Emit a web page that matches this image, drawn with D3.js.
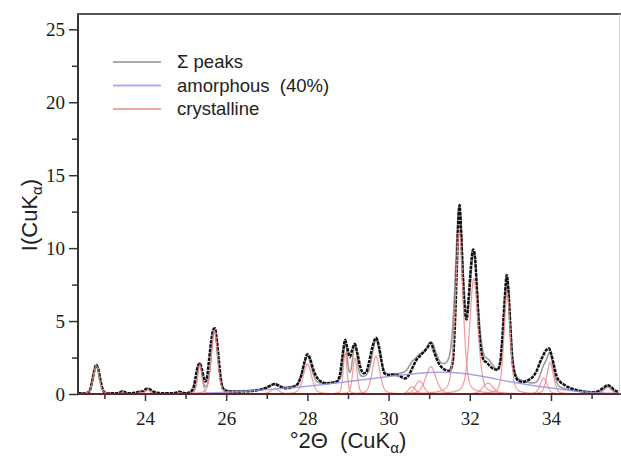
<!DOCTYPE html>
<html lang="en">
<head>
    <meta charset="UTF-8">
    <title>XRD peak fit</title>
    <script src="https://d3js.org/d3.v7.min.js"></script>
    <style>
        html,
        body {
            margin: 0;
            background: #fff;
            overflow: hidden;
        }
        .tick text {
            font-family: "Liberation Serif", "Times New Roman", "DejaVu Serif", serif;
            font-size: 19px;
            fill: #1a1a1a;
        }
        text { white-space: pre; }
    </style>
</head>
<body>
    <svg id="svg"></svg>
    <script>
        const observed = [
            [22.35, 0.05], [22.5, 0.05], [22.6, 0.1], [22.65, 0.3], [22.7, 0.9], [22.75, 1.6], [22.8, 2.0],
            [22.85, 1.7], [22.9, 1.0], [22.95, 0.4], [23.0, 0.12], [23.1, 0.05], [23.3, 0.05], [23.4, 0.12],
            [23.45, 0.2], [23.5, 0.12], [23.6, 0.05], [23.75, 0.08], [23.85, 0.15], [23.95, 0.2], [24.05, 0.36],
            [24.1, 0.34], [24.2, 0.18], [24.3, 0.08], [24.5, 0.05], [24.7, 0.06], [24.8, 0.12], [24.85, 0.15],
            [24.9, 0.1], [25.0, 0.05], [25.1, 0.1], [25.2, 0.5], [25.25, 1.2], [25.3, 1.9], [25.35, 2.1],
            [25.4, 1.7], [25.45, 1.1], [25.49, 0.85], [25.53, 1.2], [25.58, 2.4], [25.63, 3.6], [25.68, 4.4],
            [25.72, 4.5], [25.77, 3.7], [25.82, 2.3], [25.87, 1.0], [25.92, 0.4], [26.0, 0.2], [26.2, 0.15],
            [26.4, 0.18], [26.6, 0.2], [26.84, 0.3], [27.0, 0.45], [27.1, 0.6], [27.2, 0.68], [27.3, 0.55],
            [27.45, 0.39], [27.6, 0.45], [27.74, 0.62], [27.85, 1.3], [27.93, 2.2], [28.0, 2.72], [28.07, 2.4],
            [28.15, 1.64], [28.23, 1.15], [28.31, 0.9], [28.47, 0.73], [28.6, 0.78], [28.72, 0.84], [28.8, 1.3],
            [28.86, 2.5], [28.93, 3.7], [28.98, 3.2], [29.05, 2.55], [29.1, 3.0], [29.17, 3.42], [29.23, 2.8],
            [29.3, 1.9], [29.38, 1.42], [29.45, 1.5], [29.52, 2.2], [29.6, 3.2], [29.69, 3.85], [29.76, 3.3],
            [29.83, 2.2], [29.9, 1.4], [30.0, 1.3], [30.1, 1.33], [30.2, 1.3], [30.3, 1.2], [30.4, 1.07],
            [30.5, 1.3], [30.6, 1.87], [30.7, 2.4], [30.77, 2.6], [30.85, 2.85], [30.95, 3.15], [31.04, 3.5],
            [31.12, 2.9], [31.2, 2.3], [31.3, 1.85], [31.4, 1.65], [31.5, 1.6], [31.58, 2.2], [31.63, 4.5],
            [31.68, 8.5], [31.73, 12.5], [31.75, 12.95], [31.78, 11.5], [31.83, 8.0], [31.88, 5.6], [31.92, 5.1],
            [31.97, 6.5], [32.03, 8.8], [32.08, 9.9], [32.12, 9.6], [32.17, 7.5], [32.22, 4.8], [32.28, 3.0],
            [32.35, 2.3], [32.42, 2.15], [32.5, 1.9], [32.6, 1.7], [32.68, 1.65], [32.75, 2.2], [32.8, 3.8],
            [32.86, 6.5], [32.91, 8.15], [32.95, 7.2], [33.0, 4.6], [33.05, 2.3], [33.12, 1.3], [33.2, 0.9],
            [33.3, 0.82], [33.4, 0.9], [33.5, 1.05], [33.56, 1.2], [33.65, 1.6], [33.72, 2.1], [33.8, 2.6],
            [33.88, 3.0], [33.95, 3.13], [34.0, 2.8], [34.07, 2.0], [34.14, 1.2], [34.22, 0.85], [34.3, 0.68],
            [34.4, 0.5], [34.5, 0.39], [34.7, 0.22], [34.9, 0.13], [35.0, 0.12], [35.1, 0.14], [35.2, 0.25],
            [35.3, 0.45], [35.4, 0.6], [35.45, 0.55], [35.55, 0.3], [35.65, 0.15]
        ];

        // amorphous hump [2theta, intensity]
        const amorphous = [
            [24.8, 0], [25.5, 0.05], [26.0, 0.12], [26.5, 0.2], [27.0, 0.3], [27.5, 0.4], [28.0, 0.52],
            [28.5, 0.68], [29.0, 0.85], [29.5, 1.02], [30.0, 1.2], [30.5, 1.36], [31.0, 1.48], [31.5, 1.52],
            [32.0, 1.38], [32.5, 1.12], [33.0, 0.82], [33.5, 0.6], [34.0, 0.4], [34.5, 0.22], [35.0, 0.1],
            [35.65, 0.04]
        ];

        // crystalline peaks: position, height, FWHM
        const peakPos    = [22.8, 23.45, 23.9, 24.07, 24.85, 25.35, 25.71, 27.2, 28.0, 28.93, 29.17, 29.69,
                            30.58, 30.76, 31.04, 31.74, 32.1, 32.45, 32.92, 33.82, 33.98, 35.4];
        const peakHeight = [1.95, 0.15, 0.12, 0.3, 0.1, 2.0, 4.35, 0.34, 2.05, 2.8, 2.45, 2.6,
                            0.5, 0.9, 1.87, 11.1, 7.9, 0.75, 6.9, 1.07, 2.15, 0.45];
        const peakFwhm   = [0.17, 0.08, 0.15, 0.14, 0.1, 0.13, 0.18, 0.25, 0.24, 0.11, 0.13, 0.22,
                            0.2, 0.24, 0.3, 0.22, 0.24, 0.3, 0.18, 0.2, 0.19, 0.22];

        const yTicks = [0, 5, 10, 15, 20, 25];
        const xTicks = [24, 26, 28, 30, 32, 34];
        const legendLabels = ['\u03A3 peaks', 'amorphous  (40%)', 'crystalline'];
        const legendColors = ['#a8a8a8', '#a9aee6', '#f2a8a8'];

        const width = 621, height = 457;
        const svg = d3.select('#svg').attr('width', width).attr('height', height);

        const x = d3.scaleLinear().domain([22.35, 35.7]).range([78, 620]);
        const y = d3.scaleLinear().domain([0, 26.05]).range([394, 14]);

        // pseudo-Voigt shape for each fitted peak
        const eta = 0.35;
        const peak = (i, t) => {
            const d = t - peakPos[i], h = peakFwhm[i] / 2;
            const g = Math.exp(-Math.LN2 * (d / h) * (d / h));
            const l = 1 / (1 + (d / h) * (d / h));
            return peakHeight[i] * ((1 - eta) * g + eta * l);
        };
        const amorphAt = d3.scaleLinear().domain(amorphous.map(d => d[0])).range(amorphous.map(d => d[1])).clamp(true);
        const grid = d3.range(22.35, 35.7, 0.005);

        const line = d3.line().x(d => x(d[0])).y(d => y(d[1]));
        const plot = svg.append('g');

        // sum of all fitted contributions
        plot.append('path')
            .datum(grid.map(t => [t, amorphAt(t) + d3.sum(peakPos, (p, i) => peak(i, t))]))
            .attr('fill', 'none').attr('stroke', '#9c9c9c').attr('stroke-width', 1.6)
            .attr('d', line);

        // measured points
        plot.append('path')
            .datum(observed)
            .attr('fill', 'none').attr('stroke', '#111').attr('stroke-width', 2.5)
            .attr('stroke-dasharray', '3.5,0.9')
            .attr('d', line.curve(d3.curveMonotoneX));
        line.curve(d3.curveLinear);

        // crystalline components
        plot.selectAll('.comp').data(peakPos).join('path')
            .attr('class', 'comp')
            .attr('fill', 'none').attr('stroke', '#ee8a8a').attr('stroke-opacity', 0.85).attr('stroke-width', 1.2)
            .attr('d', (p, i) => line(grid.filter(t => Math.abs(t - p) < 2.5).map(t => [t, peak(i, t)])));

        // amorphous part
        plot.append('path')
            .datum(amorphous)
            .attr('fill', 'none').attr('stroke', '#8f96e6').attr('stroke-opacity', 0.85).attr('stroke-width', 1.5)
            .attr('d', line.curve(d3.curveBasis));

        // axes
        svg.append('g').attr('transform', 'translate(78,0)')
            .call(d3.axisLeft(y).tickValues(yTicks).tickSize(9).tickPadding(4));
        svg.append('g').attr('transform', 'translate(78,0)')
            .call(d3.axisLeft(y).tickValues(d3.range(2.5, 26, 5)).tickSize(6).tickFormat(''));
        const xAxis = svg.append('g').attr('transform', 'translate(0,394)')
            .call(d3.axisBottom(x).tickValues(xTicks).tickSize(7));
        svg.append('g').attr('transform', 'translate(0,394)')
            .call(d3.axisBottom(x).tickValues(d3.range(23, 36, 2)).tickSize(5).tickFormat(''));
        svg.selectAll('.domain').remove();
        svg.selectAll('.tick line').attr('stroke', '#333').attr('stroke-width', 1.5);
        xAxis.selectAll('text').attr('dy', null).attr('y', 31);

        // frame
        svg.append('line').attr('x1', 78).attr('x2', 78).attr('y1', 13).attr('y2', 395)
            .attr('stroke', '#333').attr('stroke-width', 2);
        svg.append('line').attr('x1', 77).attr('x2', 621).attr('y1', 14).attr('y2', 14)
            .attr('stroke', '#555').attr('stroke-width', 2);
        svg.append('line').attr('x1', 77).attr('x2', 621).attr('y1', 394).attr('y2', 394)
            .attr('stroke', '#5a2a2a').attr('stroke-width', 2);
        svg.append('line').attr('x1', 619.5).attr('x2', 619.5).attr('y1', 14).attr('y2', 394)
            .attr('stroke', '#d0d0d0').attr('stroke-width', 1);

        // axis titles
        const xTitle = svg.append('text').attr('x', 348).attr('y', 448)
            .attr('text-anchor', 'middle').attr('font-family', '"Liberation Sans", Arial, sans-serif')
            .attr('font-size', 22).attr('fill', '#222');
        xTitle.append('tspan').text('\u00B02\u0398  (CuK');
        xTitle.append('tspan').attr('font-size', 15).attr('dy', 5).text('\u03B1');
        xTitle.append('tspan').attr('dy', -5).text(')');

        const yTitle = svg.append('text').attr('transform', 'translate(37,215) rotate(-90)')
            .attr('text-anchor', 'middle').attr('font-family', '"Liberation Sans", Arial, sans-serif')
            .attr('font-size', 22).attr('fill', '#222');
        yTitle.append('tspan').text('I(CuK');
        yTitle.append('tspan').attr('font-size', 15).attr('dy', 5).text('\u03B1');
        yTitle.append('tspan').attr('dy', -5).text(')');

        // legend
        const legend = svg.append('g');
        legendLabels.forEach((t, i) => {
            const ly = 62 + i * 23.5;
            legend.append('line').attr('x1', 113).attr('x2', 161).attr('y1', ly).attr('y2', ly)
                .attr('stroke', legendColors[i]).attr('stroke-width', 1.8);
            legend.append('text').attr('x', 177).attr('y', ly + 6)
                .attr('font-family', '"Liberation Sans", Arial, sans-serif').attr('font-size', 18.5)
                .attr('fill', '#222').text(t);
        });
    </script>
</body>
</html>
